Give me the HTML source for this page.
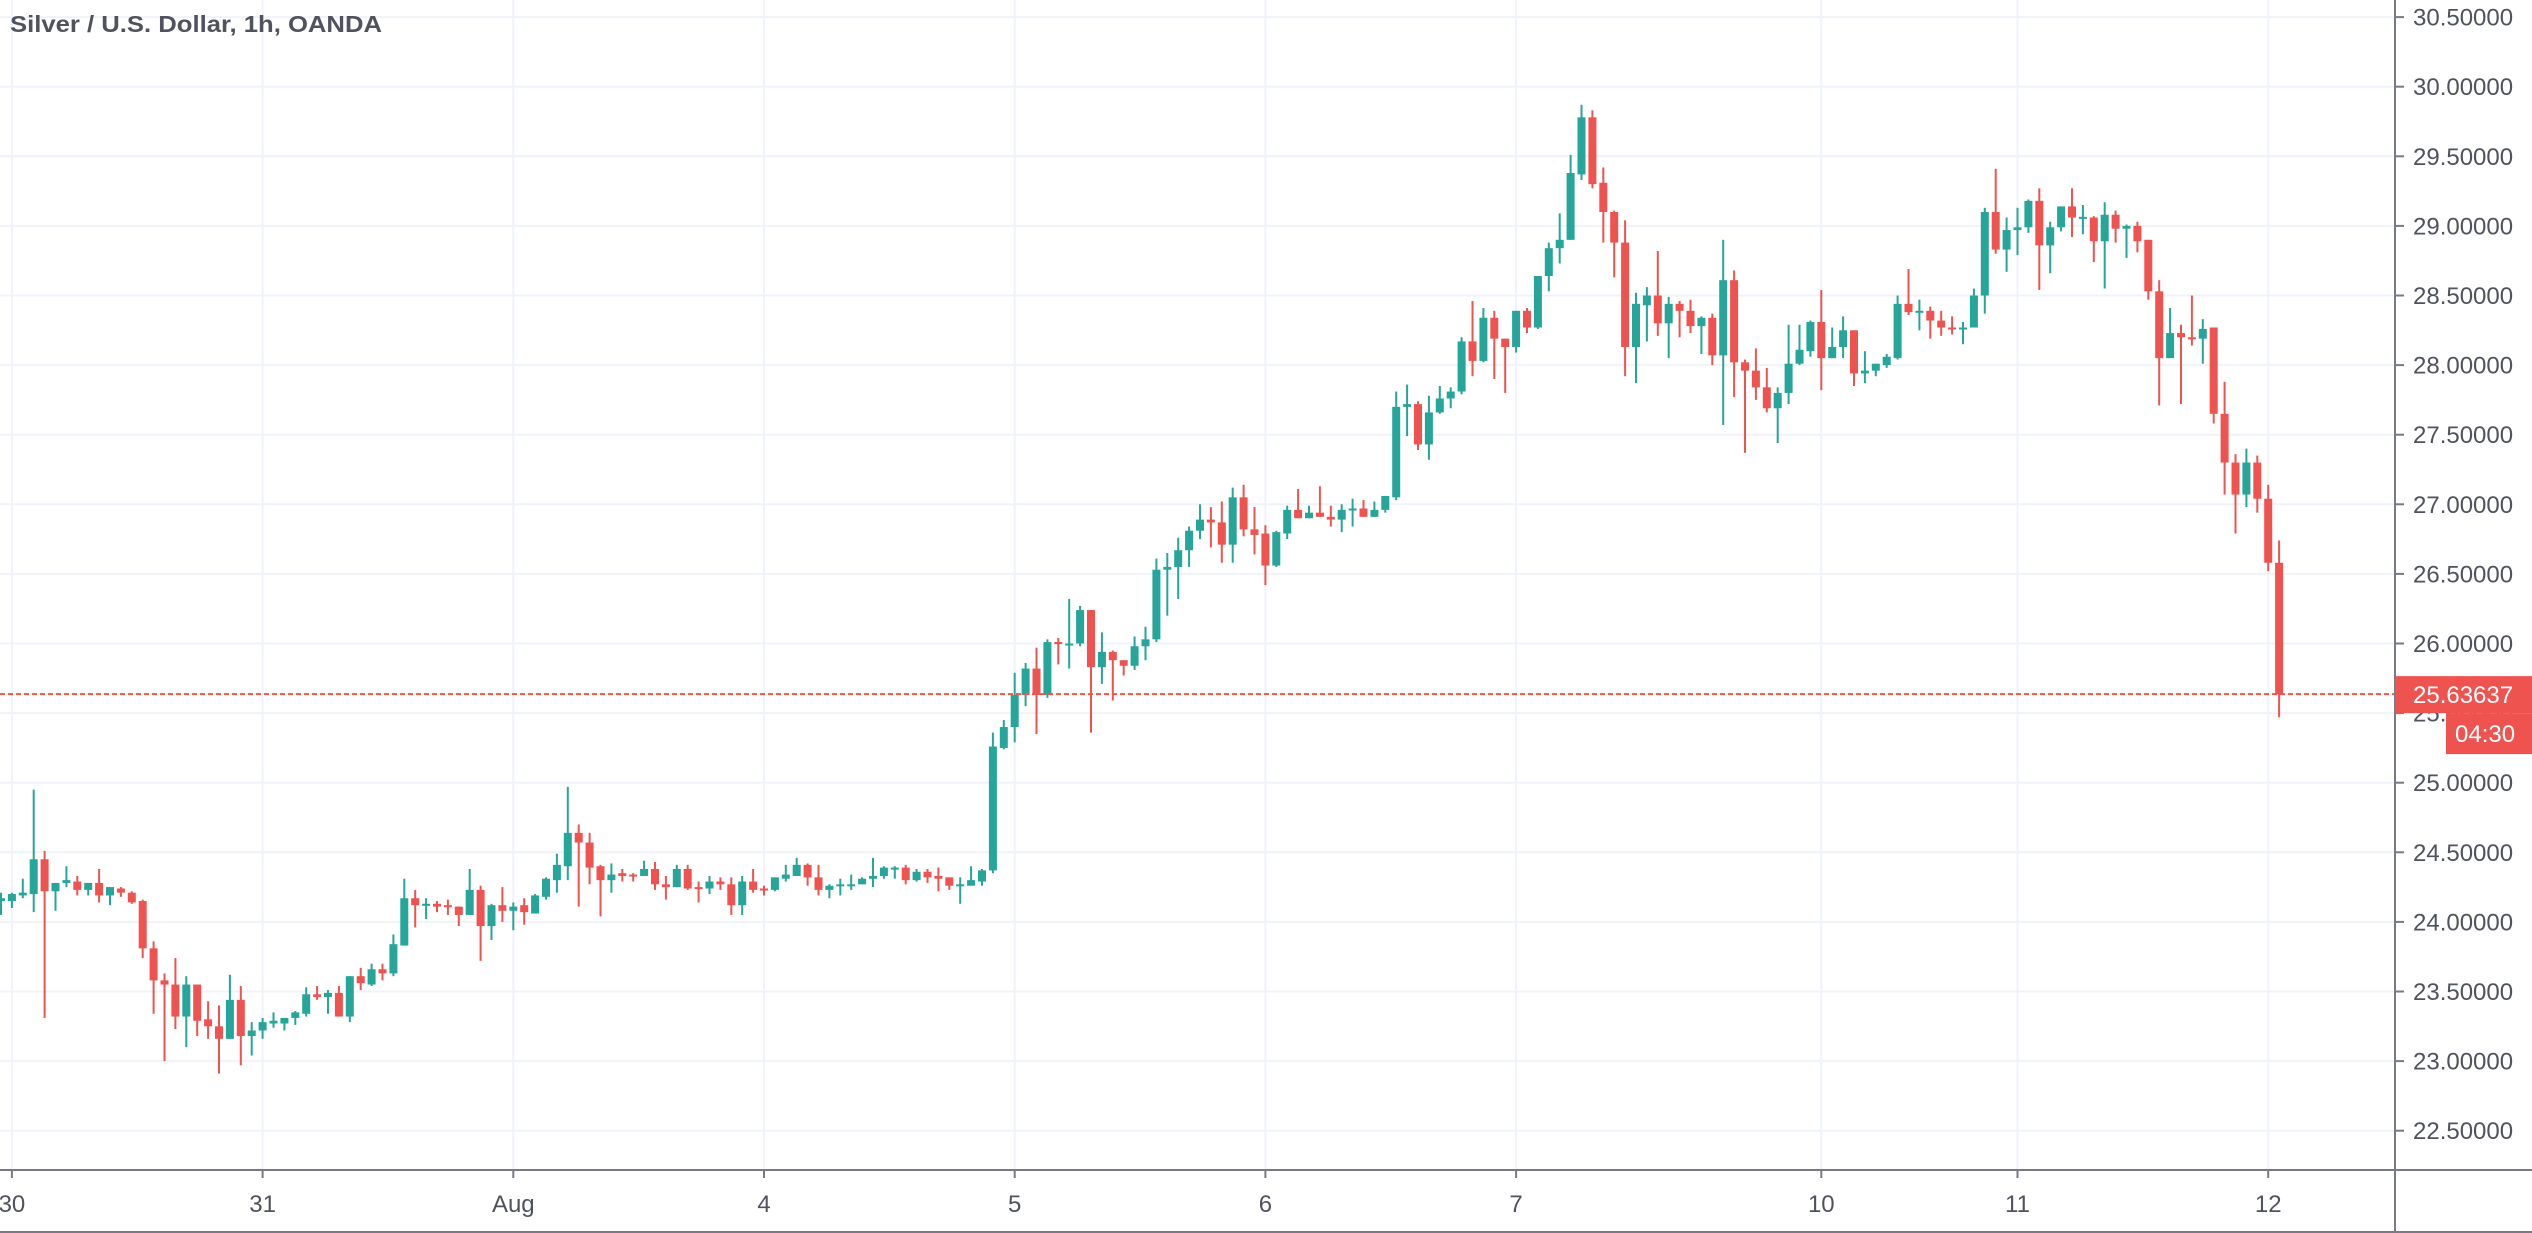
<!DOCTYPE html>
<html><head><meta charset="utf-8"><title>Silver / U.S. Dollar, 1h, OANDA</title>
<style>
html,body{margin:0;padding:0;background:#fff;}
svg{display:block;font-family:"Liberation Sans",sans-serif;}
</style></head>
<body>
<svg id="chart" width="2532" height="1233" viewBox="0 0 2532 1233" xmlns="http://www.w3.org/2000/svg">
<rect x="0" y="0" width="2532" height="1233" fill="#ffffff"/>
<g id="grid"></g>
<g id="candles"></g>
<g id="axes"></g>
<text x="10" y="32" font-size="23" font-weight="bold" fill="#50535e" textLength="372" lengthAdjust="spacingAndGlyphs">Silver / U.S. Dollar, 1h, OANDA</text>
</svg>
<script>
const opens=[24.15,24.15,24.19,24.20,24.45,24.22,24.28,24.29,24.23,24.28,24.19,24.24,24.21,24.15,23.81,23.58,23.55,23.32,23.55,23.30,23.25,23.16,23.44,23.18,23.22,23.27,23.27,23.31,23.34,23.48,23.46,23.49,23.32,23.61,23.55,23.66,23.63,23.83,24.17,24.12,24.13,24.12,24.11,24.05,24.23,23.97,24.12,24.08,
24.12,24.06,24.18,24.30,24.40,24.64,24.57,24.40,24.30,24.35,24.34,24.33,24.38,24.27,24.25,24.38,24.25,24.24,24.29,24.27,24.12,24.29,24.24,24.23,24.31,24.33,24.41,24.32,24.23,24.26,24.26,24.27,24.31,24.33,24.38,24.39,24.30,24.36,24.33,24.32,24.26,24.26,24.29,24.37,
25.25,25.40,25.63,25.82,25.63,26.01,25.99,26.00,26.24,25.83,25.94,25.88,25.84,25.98,26.03,26.53,26.55,26.67,26.81,26.89,26.87,26.71,27.05,26.82,26.79,26.56,26.79,26.96,26.90,26.94,26.91,26.89,26.96,26.97,26.91,26.96,27.05,27.70,
27.72,27.43,27.66,27.76,27.81,28.17,28.03,28.34,28.19,28.13,28.39,28.27,28.64,28.84,28.90,29.37,29.78,29.31,29.10,28.88,28.13,28.43,28.50,28.30,28.44,28.39,28.28,28.34,28.07,28.61,28.02,27.96,27.84,27.69,27.80,28.01,28.10,28.31,28.05,
28.13,28.25,27.94,27.96,28.00,28.05,28.44,28.38,28.39,28.32,28.27,28.26,28.27,28.50,29.10,28.83,28.97,28.99,29.18,28.86,28.99,29.14,29.06,29.06,28.89,29.08,28.98,29.00,28.90,28.53,28.05,28.23,28.20,28.19,28.27,27.65,27.30,27.07,27.30,27.04,26.58];
const highs=[24.21,24.21,24.31,24.95,24.51,24.28,24.40,24.33,24.28,24.38,24.25,24.25,24.22,24.16,23.86,23.63,23.74,23.61,23.55,23.43,23.40,23.62,23.54,23.28,23.31,23.35,23.31,23.36,23.53,23.54,23.51,23.54,23.61,23.67,23.70,23.70,23.91,24.31,24.23,24.17,24.15,24.16,24.11,24.38,24.26,24.13,24.25,24.14,
24.17,24.20,24.32,24.49,24.97,24.70,24.64,24.41,24.42,24.38,24.35,24.44,24.43,24.33,24.41,24.41,24.29,24.33,24.32,24.32,24.33,24.38,24.26,24.32,24.41,24.46,24.42,24.41,24.27,24.31,24.34,24.32,24.46,24.40,24.40,24.41,24.38,24.38,24.39,24.32,24.32,24.40,24.38,25.36,
25.45,25.79,25.86,25.97,26.03,26.04,26.32,26.27,26.24,26.08,25.95,25.88,26.05,26.12,26.61,26.65,26.76,26.84,27.00,26.98,27.02,27.12,27.14,26.98,26.85,26.81,26.99,27.11,26.99,27.13,26.99,27.00,27.04,27.03,27.02,27.06,27.81,27.86,
27.74,27.78,27.85,27.84,28.20,28.46,28.41,28.39,28.19,28.39,28.41,28.64,28.88,29.09,29.51,29.87,29.83,29.42,29.11,29.04,28.52,28.56,28.82,28.49,28.46,28.47,28.35,28.37,28.90,28.68,28.04,28.12,27.98,27.84,28.29,28.29,28.32,28.54,28.27,
28.35,28.25,28.10,28.01,28.08,28.50,28.69,28.47,28.42,28.39,28.35,28.31,28.55,29.13,29.41,29.06,29.13,29.19,29.27,29.03,29.14,29.27,29.15,29.07,29.17,29.11,29.01,29.03,28.90,28.61,28.41,28.29,28.50,28.33,28.27,27.88,27.36,27.40,27.35,27.14,26.74];
const lows=[24.05,24.10,24.17,24.07,23.31,24.08,24.25,24.19,24.19,24.14,24.12,24.18,24.13,23.74,23.34,23.00,23.23,23.10,23.18,23.16,22.91,23.16,22.97,23.04,23.16,23.24,23.22,23.26,23.32,23.44,23.34,23.32,23.28,23.51,23.54,23.58,23.61,23.83,23.96,24.02,24.07,24.05,23.97,24.05,23.72,23.87,24.00,23.94,
23.98,24.06,24.16,24.21,24.30,24.11,24.27,24.04,24.21,24.29,24.29,24.33,24.23,24.16,24.25,24.23,24.14,24.20,24.23,24.05,24.05,24.21,24.19,24.22,24.29,24.33,24.26,24.19,24.17,24.19,24.23,24.27,24.25,24.31,24.31,24.27,24.29,24.28,24.22,24.23,24.13,24.26,24.26,24.35,
25.24,25.29,25.55,25.35,25.61,25.85,25.82,25.98,25.36,25.71,25.59,25.77,25.81,25.88,26.01,26.20,26.32,26.55,26.75,26.69,26.58,26.58,26.77,26.64,26.42,26.55,26.75,26.90,26.90,26.91,26.84,26.80,26.84,26.91,26.91,26.94,27.03,27.49,
27.39,27.32,27.65,27.69,27.79,27.92,28.02,27.90,27.80,28.09,28.23,28.26,28.53,28.73,28.90,29.33,29.27,28.88,28.63,27.92,27.87,28.17,28.21,28.05,28.20,28.23,28.08,28.00,27.57,27.77,27.37,27.75,27.66,27.44,27.72,28.00,28.06,27.82,28.05,
28.05,27.85,27.87,27.92,27.98,28.04,28.36,28.25,28.19,28.21,28.22,28.15,28.27,28.37,28.80,28.67,28.79,28.95,28.54,28.66,28.96,28.92,28.94,28.74,28.55,28.88,28.77,28.81,28.47,27.71,28.05,27.72,28.14,28.01,27.58,27.07,26.79,26.98,26.94,26.52,25.47];
const closes=[24.17,24.20,24.21,24.45,24.22,24.28,24.30,24.23,24.28,24.19,24.25,24.21,24.14,23.81,23.58,23.55,23.32,23.55,23.29,23.25,23.16,23.44,23.18,23.22,23.28,23.29,23.31,23.35,23.48,23.46,23.49,23.32,23.61,23.56,23.66,23.63,23.84,24.17,24.12,24.13,24.11,24.11,24.05,24.23,23.97,24.12,24.08,24.11,
24.07,24.19,24.31,24.41,24.64,24.57,24.39,24.30,24.34,24.33,24.33,24.38,24.27,24.25,24.38,24.24,24.24,24.29,24.27,24.12,24.29,24.23,24.23,24.32,24.34,24.41,24.32,24.23,24.26,24.27,24.27,24.31,24.33,24.39,24.39,24.30,24.36,24.32,24.31,24.26,24.27,24.30,24.37,25.26,
25.40,25.63,25.82,25.63,26.01,26.00,26.00,26.24,25.83,25.94,25.88,25.84,25.98,26.03,26.53,26.55,26.67,26.81,26.89,26.87,26.71,27.05,26.82,26.78,26.56,26.80,26.96,26.90,26.94,26.91,26.89,26.96,26.97,26.91,26.96,27.06,27.70,27.72,
27.43,27.66,27.76,27.81,28.17,28.03,28.34,28.19,28.13,28.39,28.27,28.64,28.84,28.90,29.38,29.78,29.30,29.10,28.88,28.13,28.44,28.50,28.30,28.44,28.39,28.28,28.34,28.07,28.61,28.02,27.96,27.84,27.69,27.80,28.01,28.11,28.31,28.05,28.13,
28.25,27.94,27.96,28.01,28.06,28.44,28.38,28.39,28.32,28.27,28.26,28.27,28.50,29.10,28.83,28.97,28.99,29.18,28.86,28.99,29.14,29.06,29.065,28.89,29.08,28.98,29.00,28.89,28.53,28.05,28.23,28.20,28.19,28.26,27.65,27.30,27.07,27.30,27.04,26.58,25.63637];
const priceTicks=[22.5,23,23.5,24,24.5,25,25.5,26,26.5,27,27.5,28,28.5,29,29.5,30,30.5];
const dayLabels=["30","31","Aug","4","5","6","7","10","11","12"];
const dayIndex=[1,24,47,70,93,116,139,167,185,208];
const lastPrice=25.63637;
const countdown="04:30";

const NS="http://www.w3.org/2000/svg";
const PLOT_R=2395, AXIS_Y=1170;
function yScale(p){return 782.7+(25-p)*139.2;}
function xScale(i){return 1+i*10.9;}
function mk(tag,attrs,parent){const e=document.createElementNS(NS,tag);for(const k in attrs)e.setAttribute(k,attrs[k]);parent.appendChild(e);return e;}
const grid=document.getElementById('grid'),cg=document.getElementById('candles'),ax=document.getElementById('axes');

priceTicks.forEach(p=>{
  const y=yScale(p);
  const g=mk('line',{x1:0,x2:PLOT_R,y1:y,y2:y,stroke:'#f0f3fa','stroke-width':2},grid);
  
  
  const t=mk('line',{x1:PLOT_R,x2:PLOT_R+9,y1:y,y2:y,stroke:'#787b86','stroke-width':2},ax);
  
  
  const tx=mk('text',{x:2413,y:y+8.5,'font-size':24,fill:'#50535e'},ax);
  tx.textContent=p.toFixed(5);
  
  
});
dayIndex.forEach((idx,k)=>{
  const x=xScale(idx);
  const g=mk('line',{x1:x,x2:x,y1:0,y2:AXIS_Y,stroke:'#f0f3fa','stroke-width':2},grid);
  
  
  const t=mk('line',{x1:x,x2:x,y1:AXIS_Y,y2:AXIS_Y+8,stroke:'#787b86','stroke-width':2},ax);
  
  
  const tx=mk('text',{x:x,y:1212,'font-size':24,fill:'#50535e','text-anchor':'middle'},ax);
  tx.textContent=dayLabels[k];
  
  
});

for(let i=0;i<opens.length;i++){
  const o=opens[i],h=highs[i],l=lows[i],c=closes[i];
  const up=c>=o, col=up?'#26a69a':'#ef5350', x=xScale(i);
  const w=mk('rect',{x:x-1,y:yScale(h),width:2,height:Math.max(1,yScale(l)-yScale(h)),fill:col},cg);
  
  
  const top=yScale(Math.max(o,c)),bot=yScale(Math.min(o,c));
  const b=mk('rect',{x:x-4,y:top,width:8,height:Math.max(2,bot-top),fill:col},cg);
  
  
}

const ly=yScale(lastPrice);
const dl=mk('line',{x1:0,x2:PLOT_R,y1:ly,y2:ly,stroke:'#ef5350','stroke-width':2,'stroke-dasharray':'5 3'},ax);



const va=mk('line',{x1:PLOT_R,x2:PLOT_R,y1:0,y2:1233,stroke:'#787b86','stroke-width':2},ax);


const ha=mk('line',{x1:0,x2:2532,y1:AXIS_Y,y2:AXIS_Y,stroke:'#787b86','stroke-width':2},ax);


const bb=mk('line',{x1:0,x2:2532,y1:1232,y2:1232,stroke:'#787b86','stroke-width':2},ax);



const pb=mk('rect',{x:PLOT_R,y:ly-18,width:137,height:37,fill:'#ef5350'},ax);


const pt=mk('text',{x:2413,y:ly+9,'font-size':24,fill:'#ffffff'},ax);
pt.textContent=lastPrice.toFixed(5);


const cb=mk('rect',{x:2446,y:ly+19,width:86,height:41,fill:'#ef5350'},ax);


const ct=mk('text',{x:2455,y:ly+48,'font-size':24,fill:'#ffffff'},ax);
ct.textContent=countdown;


</script>
</body></html>
